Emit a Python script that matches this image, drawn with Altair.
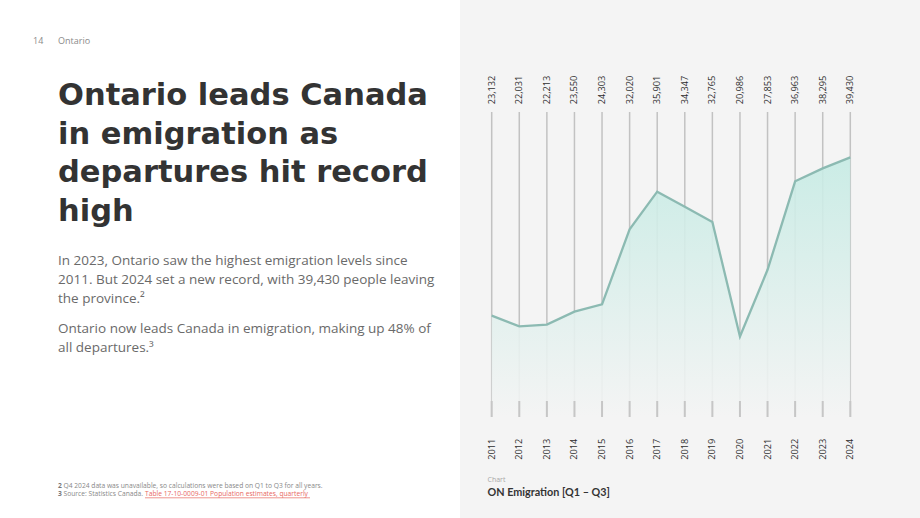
import altair as alt
import pandas as pd

years = [2011, 2012, 2013, 2014, 2015, 2016, 2017, 2018, 2019, 2020, 2021, 2022, 2023, 2024]
values = [23132, 22031, 22213, 23550, 24303, 32020, 35901, 34347, 32765, 20986, 27853, 36963, 38295, 39430]
value_labels = ["23,132", "22,031", "22,213", "23,550", "24,303", "32,020", "35,901",
                "34,347", "32,765", "20,986", "27,853", "36,963", "38,295", "39,430"]

title_lines = ["Ontario leads Canada", "in emigration as", "departures hit record", "high"]
body_lines = [
    "In 2023, Ontario saw the highest emigration levels since",
    "2011. But 2024 set a new record, with 39,430 people leaving",
    "the province.\u00b2",
    "Ontario now leads Canada in emigration, making up 48% of",
    "all departures.\u00b3",
]

df = pd.DataFrame({"year": years, "value": values, "label": value_labels,
                   "ylabel": [str(y) for y in years]})

W, H = 920, 518
TOP, BOTTOM = 112, 417
YMIN, YMAX = 12700, 44100
xs = alt.Scale(domain=[2011, 2024], range=[491.7, 850.3])
ys = alt.Scale(domain=[YMIN, YMAX], range=[BOTTOM, TOP], zero=False, nice=False)

X = alt.X("year:Q", scale=xs, axis=None)
Y = alt.Y("value:Q", scale=ys, axis=None)

one = pd.DataFrame({"k": [0]})

def txt(s, x, y, size, color="#333333", weight="normal", font="Open Sans", **kw):
    return alt.Chart(one).mark_text(
        align=kw.pop("align", "left"), baseline=kw.pop("baseline", "alphabetic"),
        font=font, fontSize=size, fontWeight=weight, color=color, **kw
    ).encode(x=alt.value(x), y=alt.value(y), text=alt.value(s))

panel = alt.Chart(one).mark_rect(color="#f4f4f4").encode(
    x=alt.value(460), x2=alt.value(W), y=alt.value(0), y2=alt.value(H))

base = alt.Chart(df)

grid = base.mark_rule(color="#c2c2c2", strokeWidth=1.5).encode(
    x=X, y=alt.value(TOP), y2=alt.value(BOTTOM))

area = base.mark_area(
    opacity=0.9,
    color=alt.Gradient(
        gradient="linear",
        stops=[alt.GradientStop(color="#c6ebe4", offset=0),
               alt.GradientStop(color="#f4f4f4", offset=1)],
        x1=0, x2=0, y1=0, y2=1,
    ),
).encode(x=X, y=Y, y2=alt.datum(YMIN))

line = base.mark_line(color="#8cbab2", strokeWidth=2.3).encode(x=X, y=Y)

ticks = base.mark_rule(color="#c6c6c6", strokeWidth=2).encode(
    x=X, y=alt.value(401), y2=alt.value(BOTTOM))

vlabels = base.mark_text(angle=270, align="center", baseline="middle",
                         font="Open Sans", fontSize=9.2, color="#2e2e2e").encode(
    x=X, y=alt.value(90), text="label:N")

ylabels = base.mark_text(angle=270, align="center", baseline="middle",
                         font="Open Sans", fontSize=9.2, color="#2e2e2e").encode(
    x=X, y=alt.value(449.3), text="ylabel:N")

layers = [panel, grid, area, line, ticks, vlabels, ylabels]

# header
layers.append(txt("14", 33, 43.5, 9, color="#8a8a8a"))
layers.append(txt("Ontario", 58, 43.5, 9, color="#8a8a8a"))

# title
for i, s in enumerate(title_lines):
    layers.append(txt(s, 58, 105 + i * 38.7, 30.5, color="#333333", weight="bold", font="DejaVu Sans"))

# body
body_y = [265, 284.3, 303.3, 333.3, 352.3]
for s, y in zip(body_lines, body_y):
    layers.append(txt(s, 58, y, 13.5, color="#6a6a6a"))

# footnotes
FS = 6.7
layers.append(txt("2", 58, 488, FS, color="#777777", weight="bold"))
layers.append(txt("Q4 2024 data was unavailable, so calculations were based on Q1 to Q3 for all years.",
                  63.5, 488, FS, color="#888888"))
layers.append(txt("3", 58, 496, FS, color="#777777", weight="bold"))
layers.append(txt("Source: Statistics Canada.", 63.5, 496, FS, color="#888888"))
layers.append(txt("Table 17-10-0009-01  Population estimates, quarterly", 145, 496, FS, color="#e8675f"))
layers.append(alt.Chart(one).mark_rule(color="#e8675f", strokeWidth=0.7).encode(
    x=alt.value(145), x2=alt.value(310), y=alt.value(497.8)))

# chart caption
layers.append(txt("Chart", 487.5, 482, 7, color="#a8a8a8"))
layers.append(txt("ON Emigration [Q1 \u2013 Q3]", 487.5, 495.5, 10.8, color="#333333", weight="bold", font="Lato"))

chart = alt.layer(*layers).properties(
    width=W, height=H, padding=0, background="white",
    autosize=alt.AutoSizeParams(type="none"),
).configure_view(stroke=None)

chart.save("out.html", embed_options={"renderer": "svg", "actions": False})
